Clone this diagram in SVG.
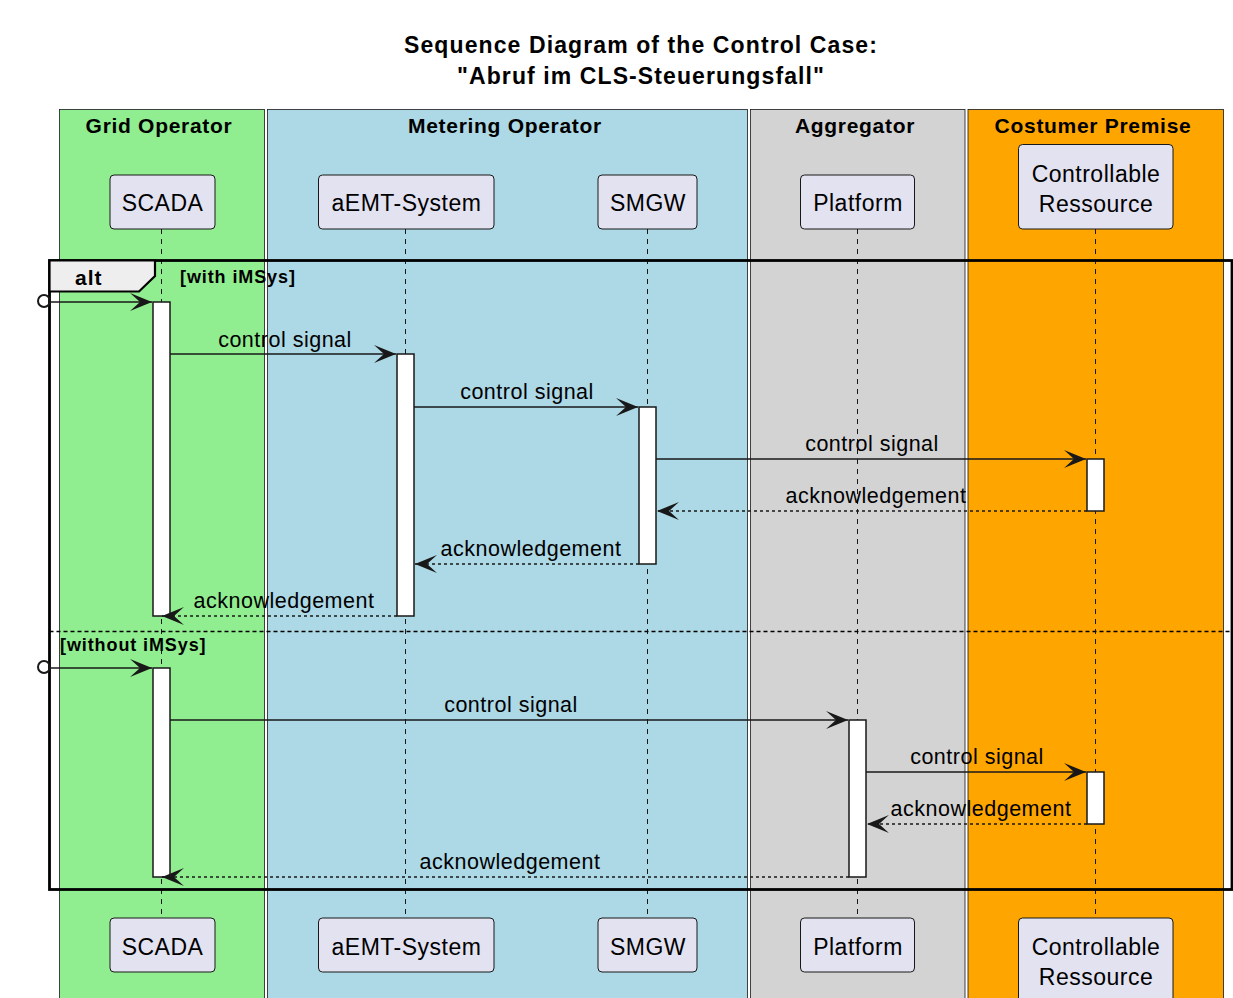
<svg xmlns="http://www.w3.org/2000/svg" width="1233" height="998" viewBox="0 0 1233 998">
<style>
text{font-family:"Liberation Sans",Arial,sans-serif;fill:#000}
.title{font-size:23px;font-weight:bold;letter-spacing:1.1px;text-anchor:middle}
.boxt{font-size:21px;font-weight:bold;letter-spacing:0.7px;text-anchor:middle}
.pt{font-size:23px;letter-spacing:0.5px;text-anchor:middle}
.msg{font-size:21.5px;letter-spacing:0.5px;text-anchor:middle}
.grd{font-size:18px;font-weight:bold;letter-spacing:0.9px}
.gbox{stroke:#181818;stroke-width:0.8}
.part{fill:#E2E2F0;stroke:#181818;stroke-width:1}
.life{stroke:#181818;stroke-width:1;stroke-dasharray:5,5;fill:none}
.act{fill:#fff;stroke:#181818;stroke-width:1.5}
.sync{stroke:#181818;stroke-width:1.5;fill:none}
.ret{stroke:#181818;stroke-width:1.5;stroke-dasharray:3,3;fill:none}
</style>
<defs>
<marker id="ah" markerUnits="userSpaceOnUse" markerWidth="24" markerHeight="20" refX="22" refY="9" orient="auto">
<polygon points="0,0 22,9 0,18 10,9" fill="#181818"/>
</marker>
</defs>
<rect width="1233" height="998" fill="#fff"/>
<g id="title">
<text class="title" x="641" y="53">Sequence Diagram of the Control Case:</text>
<text class="title" x="641" y="84">"Abruf im CLS-Steuerungsfall"</text>
</g>
<g id="box-grid-operator">
<rect class="gbox" x="59.5" y="109.5" width="205" height="900" fill="#90EE90"/>
<text class="boxt" x="159" y="133">Grid Operator</text>
</g>
<g id="box-metering-operator">
<rect class="gbox" x="267.5" y="109.5" width="480" height="900" fill="#ADD8E6"/>
<text class="boxt" x="505" y="133">Metering Operator</text>
</g>
<g id="box-aggregator">
<rect class="gbox" x="750.5" y="109.5" width="214.5" height="900" fill="#D3D3D3"/>
<text class="boxt" x="855" y="133">Aggregator</text>
</g>
<g id="box-customer-premise">
<rect class="gbox" x="968" y="109.5" width="255.5" height="900" fill="#FFA500"/>
<text class="boxt" x="1093" y="133">Costumer Premise</text>
</g>
<g id="lifelines">
<line class="life" x1="161.5" y1="229" x2="161.5" y2="918"/>
<line class="life" x1="405.5" y1="229" x2="405.5" y2="918"/>
<line class="life" x1="647.5" y1="229" x2="647.5" y2="918"/>
<line class="life" x1="857.5" y1="229" x2="857.5" y2="918"/>
<line class="life" x1="1095.5" y1="229" x2="1095.5" y2="918"/>
</g>
<g id="SCADA">
<rect class="part" x="110" y="175" width="105" height="54" rx="4"/>
<text class="pt" x="162.5" y="211">SCADA</text>
<rect class="part" x="110" y="918" width="105" height="54" rx="4"/>
<text class="pt" x="162.5" y="955">SCADA</text>
</g>
<g id="aEMT-System">
<rect class="part" x="318.5" y="175" width="175.5" height="54" rx="4"/>
<text class="pt" x="406.5" y="211">aEMT-System</text>
<rect class="part" x="318.5" y="918" width="175.5" height="54" rx="4"/>
<text class="pt" x="406.5" y="955">aEMT-System</text>
</g>
<g id="SMGW">
<rect class="part" x="598" y="175" width="99" height="54" rx="4"/>
<text class="pt" x="648" y="211">SMGW</text>
<rect class="part" x="598" y="918" width="99" height="54" rx="4"/>
<text class="pt" x="648" y="955">SMGW</text>
</g>
<g id="Platform">
<rect class="part" x="800.5" y="175" width="114" height="54" rx="4"/>
<text class="pt" x="858" y="211">Platform</text>
<rect class="part" x="800.5" y="918" width="114" height="54" rx="4"/>
<text class="pt" x="858" y="955">Platform</text>
</g>
<g id="Controllable-Ressource">
<rect class="part" x="1018.5" y="144.5" width="154.5" height="84.5" rx="4"/>
<text class="pt" x="1096" y="182">Controllable</text>
<text class="pt" x="1096" y="212">Ressource</text>
<rect class="part" x="1018.5" y="918" width="154.5" height="90" rx="4"/>
<text class="pt" x="1096" y="955">Controllable</text>
<text class="pt" x="1096" y="985">Ressource</text>
</g>
<g id="activations">
<rect class="act" x="153" y="302" width="17" height="314"/>
<rect class="act" x="397" y="354" width="17" height="262"/>
<rect class="act" x="639" y="407" width="17" height="157"/>
<rect class="act" x="1087" y="459" width="17" height="52"/>
<rect class="act" x="153" y="668" width="17" height="209"/>
<rect class="act" x="849" y="720" width="17" height="157"/>
<rect class="act" x="1087" y="772" width="17" height="52"/>
</g>
<g id="alt-frame">
<rect x="49.5" y="260.5" width="1182.5" height="629" fill="none" stroke="#000" stroke-width="2.8"/>
<polygon points="49.5,260.5 155,260.5 155,276 139,291.5 49.5,291.5" fill="#EEEEEE" stroke="#000" stroke-width="2.2"/>
<text x="75" y="285" style="font-size:21px;font-weight:bold;letter-spacing:1px">alt</text>
<text class="grd" x="180" y="283">[with iMSys]</text>
<line x1="49.5" y1="631.5" x2="1232" y2="631.5" stroke="#000" stroke-width="1.5" stroke-dasharray="4,3"/>
<text class="grd" x="60" y="651">[without iMSys]</text>
</g>
<g id="connectors">
<circle cx="44" cy="301" r="6" fill="none" stroke="#181818" stroke-width="2"/>
<line class="sync" x1="50" y1="302" x2="152" y2="302" marker-end="url(#ah)"/>
<line class="sync" x1="170" y1="354" x2="396" y2="354" marker-end="url(#ah)"/>
<text class="msg" x="285" y="347">control signal</text>
<line class="sync" x1="414" y1="407" x2="638" y2="407" marker-end="url(#ah)"/>
<text class="msg" x="527" y="399">control signal</text>
<line class="sync" x1="656" y1="459" x2="1086" y2="459" marker-end="url(#ah)"/>
<text class="msg" x="872" y="451">control signal</text>
<line class="ret" x1="1087" y1="511" x2="657" y2="511" marker-end="url(#ah)"/>
<text class="msg" x="876" y="503">acknowledgement</text>
<line class="ret" x1="639" y1="564" x2="415" y2="564" marker-end="url(#ah)"/>
<text class="msg" x="531" y="556">acknowledgement</text>
<line class="ret" x1="397" y1="616" x2="162" y2="616" marker-end="url(#ah)"/>
<text class="msg" x="284" y="608">acknowledgement</text>
<circle cx="44" cy="667" r="6" fill="none" stroke="#181818" stroke-width="2"/>
<line class="sync" x1="50" y1="668" x2="152" y2="668" marker-end="url(#ah)"/>
<line class="sync" x1="170" y1="720" x2="848" y2="720" marker-end="url(#ah)"/>
<text class="msg" x="511" y="712">control signal</text>
<line class="sync" x1="866" y1="772" x2="1086" y2="772" marker-end="url(#ah)"/>
<text class="msg" x="977" y="764">control signal</text>
<line class="ret" x1="1087" y1="824" x2="867" y2="824" marker-end="url(#ah)"/>
<text class="msg" x="981" y="816">acknowledgement</text>
<line class="ret" x1="849" y1="877" x2="162" y2="877" marker-end="url(#ah)"/>
<text class="msg" x="510" y="869">acknowledgement</text>
</g>
</svg>
